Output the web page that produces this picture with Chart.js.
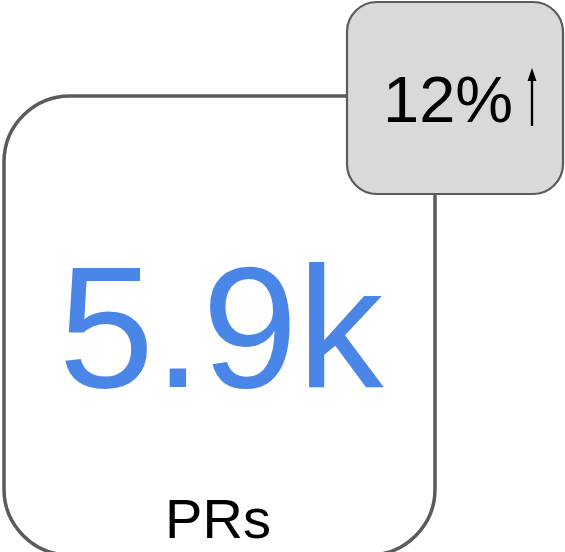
<!DOCTYPE html>
<html>
<head>
<meta charset="utf-8">
<script src="https://cdn.jsdelivr.net/npm/chart.js@4"></script>
<style>
  html, body { margin: 0; padding: 0; background: #ffffff; }
  #wrap { width: 565px; height: 552px; position: relative; }
</style>
</head>
<body>
<div id="wrap"><canvas id="kpiChart"></canvas></div>
<script>
// KPI values
const kpiValues = ["5.9k"];
const kpiLabels = ["PRs"];
const changePct = [12];
const changeDir = ["up"];

// ---------------- KPI CARD PLUGIN ----------------

function roundRect(ctx, x, y, w, h, r) {
    ctx.beginPath();
    ctx.moveTo(x + r, y);
    ctx.lineTo(x + w - r, y);
    ctx.arcTo(x + w, y, x + w, y + r, r);
    ctx.lineTo(x + w, y + h - r);
    ctx.arcTo(x + w, y + h, x + w - r, y + h, r);
    ctx.lineTo(x + r, y + h);
    ctx.arcTo(x, y + h, x, y + h - r, r);
    ctx.lineTo(x, y + r);
    ctx.arcTo(x, y, x + r, y, r);
    ctx.closePath();
}

const kpiPlugin = {
    id: "kpiCard",
    afterDraw(chart) {
        const ctx = chart.ctx;
        ctx.save();

        // main card (bottom edge runs just off the canvas)
        roundRect(ctx, 4, 96, 431, 459, 66);
        ctx.fillStyle = "#ffffff";
        ctx.fill();
        ctx.lineWidth = 3.5;
        ctx.strokeStyle = "#5b5b5b";
        ctx.stroke();

        ctx.textAlign = "center";
        ctx.textBaseline = "alphabetic";
        ctx.fillStyle = "#4a86e8";
        ctx.font = "172px 'Liberation Sans', Arial, sans-serif";
        ctx.fillText(kpiValues[0], 221, 387);

        ctx.fillStyle = "#000000";
        ctx.font = "56px 'Liberation Sans', Arial, sans-serif";
        ctx.fillText(kpiLabels[0], 218, 538);

        // change badge
        roundRect(ctx, 347, 2, 216, 192, 30);
        ctx.fillStyle = "#d9d9d9";
        ctx.fill();
        ctx.lineWidth = 2.2;
        ctx.strokeStyle = "#5b5b5b";
        ctx.stroke();

        ctx.fillStyle = "#000000";
        ctx.textAlign = "left";
        ctx.font = "65px 'Liberation Sans', Arial, sans-serif";
        ctx.fillText(changePct[0] + "%", 383, 122);

        // arrow
        const ax = 532;
        const d = changeDir[0] === "up" ? 1 : -1;
        const tip = d === 1 ? 68 : 126;
        const tail = d === 1 ? 126 : 68;
        ctx.beginPath();
        ctx.moveTo(ax, tail);
        ctx.lineTo(ax, tip + 8 * d);
        ctx.lineWidth = 2.3;
        ctx.strokeStyle = "#000000";
        ctx.stroke();
        ctx.beginPath();
        ctx.moveTo(ax, tip);
        ctx.lineTo(ax - 4.5, tip + 13 * d);
        ctx.lineTo(ax + 4.5, tip + 13 * d);
        ctx.closePath();
        ctx.fillStyle = "#000000";
        ctx.fill();

        ctx.restore();
    }
};

new Chart(document.getElementById("kpiChart"), {
    type: "bar",
    data: {
        labels: kpiLabels,
        datasets: [{ data: [] }]
    },
    options: {
        responsive: true,
        maintainAspectRatio: false,
        animation: false,
        events: [],
        scales: {
            x: { display: false },
            y: { display: false }
        },
        plugins: {
            legend: { display: false },
            tooltip: { enabled: false }
        }
    },
    plugins: [kpiPlugin]
});
</script>
</body>
</html>
